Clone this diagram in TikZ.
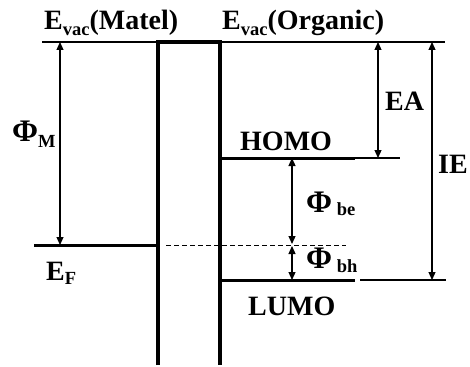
\documentclass[tikz,border=0pt]{standalone}
\usepackage{fontspec}
\setmainfont{Liberation Serif}
\usetikzlibrary{arrows.meta}
\newcommand\lowsub[2][-0.45ex]{\raisebox{#1}{\fontsize{18.5}{18.5}\selectfont #2}}
\newcommand\bigphi{\scalebox{1.12}{Φ}}
\begin{document}
\begin{tikzpicture}[x=1pt,y=-1pt,
  lbl/.style={font=\fontsize{28}{30}\selectfont\bfseries, inner sep=0, anchor=base west},
  wall/.style={line width=4pt},
  level/.style={line width=3pt},
  thin/.style={line width=1.2pt},
  vac/.style={line width=1.5pt},
  dim/.style={line width=1.2pt, {Triangle[width=7pt,length=8pt]}-{Triangle[width=7pt,length=8pt]}}]
\useasboundingbox (0,0) rectangle (470,366);
% coordinates
\coordinate (vacL) at (42,42);
\coordinate (vacR) at (445,42);
\coordinate (wTL) at (158,42);
\coordinate (wTR) at (220,42);
\coordinate (wBL) at (158,365);
\coordinate (wBR) at (220,365);
\coordinate (efL) at (34,245);
\coordinate (efR) at (158,245);
\coordinate (dashL) at (166,245);
\coordinate (dashR) at (346,245);
\coordinate (hoL) at (220,158);
\coordinate (hoM) at (355,158);
\coordinate (hoR) at (400,158);
\coordinate (luL) at (220,280);
\coordinate (luM) at (355,280);
\coordinate (luT) at (360,280);
\coordinate (luR) at (446,280);
\coordinate (pmT) at (60,42);
\coordinate (pmB) at (60,245);
\coordinate (eaT) at (378,42);
\coordinate (eaB) at (378,158);
\coordinate (ieT) at (432,42);
\coordinate (ieB) at (432,280);
\coordinate (beT) at (292,158);
\coordinate (beB) at (292,244);
\coordinate (bhT) at (292,246);
\coordinate (bhB) at (292,280);
% lines
\draw[vac] (vacL) -- (vacR);
\draw[wall] (wBL) -- (wTL) -- (wTR) -- (wBR);
\draw[level] (efL) -- (efR);
\draw[line width=0.8pt, dash pattern=on 5pt off 3pt] (dashL) -- (dashR);
\draw[level] (hoL) -- (hoM);
\draw[thin] (hoL) -- (hoR);
\draw[level] (luL) -- (luM);
\draw[thin] (luT) -- (luR);
% arrows
\draw[dim] (pmT) -- (pmB);
\draw[dim] (eaT) -- (eaB);
\draw[dim] (ieT) -- (ieB);
\draw[dim] (beT) -- (beB);
\draw[dim] (bhT) -- (bhB);
% labels
\node[lbl] (tvm) at (44,30) {E\lowsub{vac}(Matel)};
\node[lbl] (tvo) at (222,30) {E\lowsub{vac}(Organic)};
\node[lbl] (tpm) at (12,142) {\bigphi\lowsub[-0.4ex]{M}};
\node[lbl] (tef) at (46,280) {E\lowsub[-0.35ex]{F}};
\node[lbl] (tho) at (240,150) {HOMO};
\node[lbl] (tea) at (385,111) {EA};
\node[lbl] (tie) at (438,173) {IE};
\node[lbl] (tlu) at (248,315) {LUMO};
\node[lbl] (tbe) at (306,212) {\bigphi\,\lowsub[-0.3ex]{be}};
\node[lbl] (tbh) at (306,268) {\bigphi\,\lowsub[-0.35ex]{bh}};
\end{tikzpicture}
\end{document}
